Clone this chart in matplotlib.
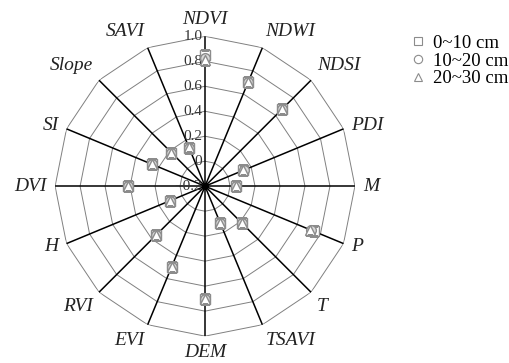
import numpy as np
import matplotlib
matplotlib.use("Agg")
import matplotlib.pyplot as plt
from matplotlib.lines import Line2D

plt.rcParams['font.family'] = ['Liberation Serif', 'DejaVu Serif']

# variables, clockwise from top
labels = ["NDVI", "NDWI", "NDSI", "PDI", "M", "P", "T", "TSAVI",
          "DEM", "EVI", "RVI", "H", "DVI", "SI", "Slope", "SAVI"]

# values per soil depth
d0_10 = [0.85, 0.70, 0.67, 0.13, 0.05, 0.74, 0.22, 0.12,
         0.70, 0.50, 0.35, 0.10, 0.42, 0.26, 0.18, 0.13]
d10_20 = [0.83, 0.70, 0.67, 0.14, 0.05, 0.72, 0.22, 0.12,
          0.70, 0.50, 0.35, 0.10, 0.42, 0.26, 0.18, 0.13]
d20_30 = [0.81, 0.70, 0.67, 0.13, 0.05, 0.71, 0.22, 0.12,
          0.70, 0.50, 0.35, 0.10, 0.42, 0.26, 0.18, 0.14]

series_names = ["0~10 cm", "10~20 cm", "20~30 cm"]
rings = [0, 0.2, 0.4, 0.6, 0.8, 1.0]
ring_labels = ["\u22120.2", "0", "0.2", "0.4", "0.6", "0.8", "1.0"]
rmin, rmax = -0.2, 1.0

n = len(labels)
theta = np.arange(n) * 2 * np.pi / n
theta_closed = np.append(theta, theta[0])

fig = plt.figure(figsize=(5.10, 3.63), dpi=100)
ax = fig.add_axes([0.108, 0.074, 0.588, 0.826], projection='polar')
ax.set_theta_zero_location('N')
ax.set_theta_direction(-1)
ax.set_ylim(rmin, rmax)
ax.grid(False)
ax.set_xticks([])
ax.set_yticks([])
ax.spines['polar'].set_visible(False)

# polygon rings
for lv in rings:
    ax.plot(theta_closed, [lv] * (n + 1), color='#808080', lw=0.7, zorder=1)

# spokes
for th in theta:
    ax.plot([th, th], [rmin, rmax], color='black', lw=1.1, zorder=2)
ax.plot([0], [rmin], 'o', color='black', ms=4, zorder=3)

# radial tick labels along the NDVI axis
for lv, txt in zip([rmin] + rings, ring_labels):
    ax.annotate(txt, xy=(0, lv), xytext=(-2, 0), textcoords='offset points',
                ha='right', va='center', fontsize=11, color='#333333', zorder=4)

# category labels, aligned by side
for th, lab in zip(theta, labels):
    sx, cy = np.sin(th), np.cos(th)
    ha = 'left' if sx > 0.1 else ('right' if sx < -0.1 else 'center')
    va = 'bottom' if cy > 0.5 else ('top' if cy < -0.5 else 'center')
    ax.annotate(lab, xy=(th, rmax), xytext=(6 * sx, 6 * cy),
                textcoords='offset points', ha=ha, va=va, fontsize=14,
                style='italic', color='#222222')

styles = [dict(marker='s', mfc='white', mec='#8c8c8c'),
          dict(marker='o', mfc='#d9d9d9', mec='#8c8c8c'),
          dict(marker='^', mfc='white', mec='#8c8c8c')]

for vals, st in zip([d0_10, d10_20, d20_30], styles):
    ax.plot(theta, vals, linestyle='none', ms=7, mew=1.0, zorder=5, **st)

handles = [Line2D([], [], linestyle='none', marker=st['marker'], mfc='white',
                  mec='#8c8c8c', ms=6, mew=0.8) for st in styles]
fig.legend(handles, series_names, loc='upper right', bbox_to_anchor=(0.997, 0.904),
           frameon=False, fontsize=13.5, handlelength=0.6, handletextpad=0.5,
           labelspacing=0.03, borderaxespad=0, borderpad=0)

fig.savefig("out.png", dpi=100)
